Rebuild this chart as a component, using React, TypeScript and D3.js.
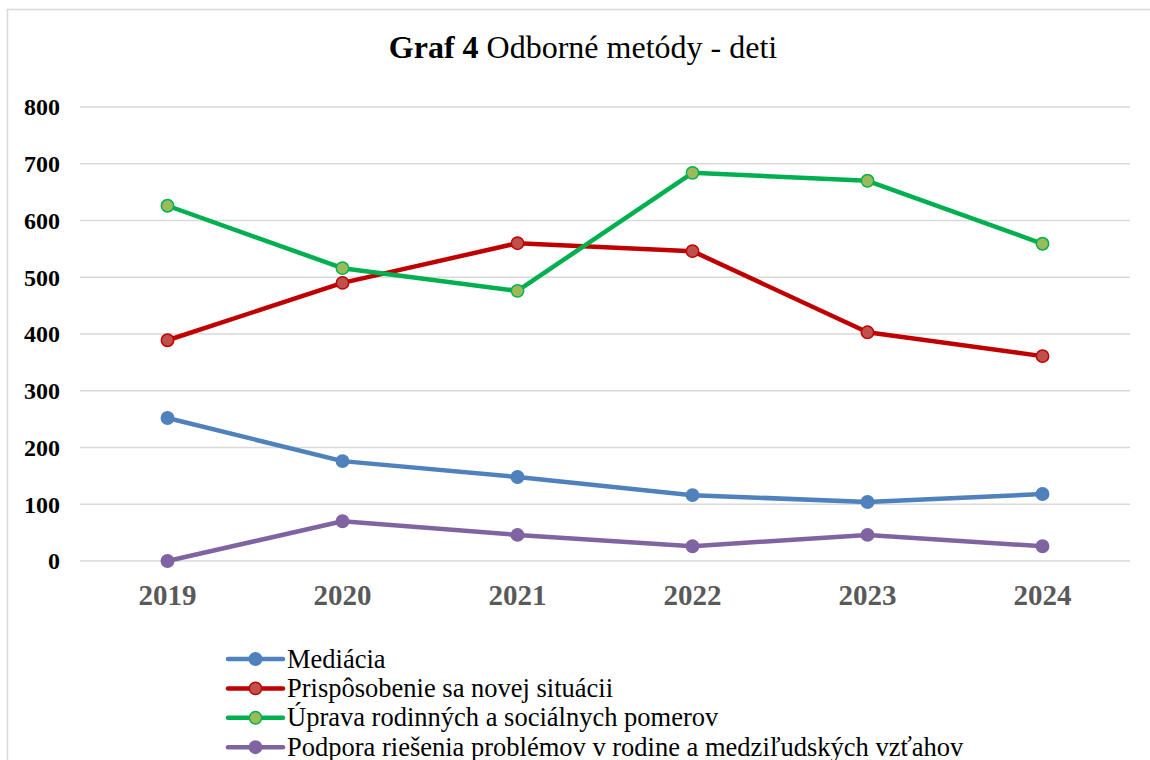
import React from "react";
import * as d3 from "d3";

const years = ["2019", "2020", "2021", "2022", "2023", "2024"];
const mediacia = [252, 176, 148, 116, 104, 118];
const prisposobenie = [389, 490, 560, 546, 403, 361];
const uprava = [626, 516, 476, 684, 670, 559];
const podpora = [0, 70, 46, 26, 46, 26];
const yTicks = [0, 100, 200, 300, 400, 500, 600, 700, 800];

const seriesNames = [
  "Mediácia",
  "Prispôsobenie sa novej situácii",
  "Úprava rodinných a sociálnych pomerov",
  "Podpora riešenia problémov v rodine a medziľudských vzťahov",
];
const seriesValues = [mediacia, prisposobenie, uprava, podpora];
const lineColors = ["#4f81bd", "#c00000", "#00b050", "#8064a2"];
const markerFills = ["#4f81bd", "#c0504d", "#9bbb59", "#8064a2"];

const W = 1150;
const H = 760;
const FONT = "Liberation Serif, Times New Roman, serif";

export default function App() {
  const x = d3.scaleBand<string>().domain(years).range([80, 1130]);
  const y = d3.scaleLinear().domain([0, 800]).range([561, 107]);
  const cx = (i: number) => (x(years[i]) as number) + x.bandwidth() / 2;
  const line = d3
    .line<number>()
    .x((_, i) => cx(i))
    .y((d) => y(d));

  return (
    <svg
      width={W}
      height={H}
      style={{ position: "absolute", left: 0, top: 0, background: "#fff", fontFamily: FONT }}
    >
      <rect x={7.5} y={9.5} width={1200} height={800} fill="#fff" stroke="#d9d9d9" strokeWidth={1.5} />
      <text x={583} y={58} textAnchor="middle" fontSize={32} fill="#000">
        <tspan fontWeight="bold">Graf 4</tspan>
        <tspan fontWeight="normal"> Odborné metódy - deti</tspan>
      </text>
      {yTicks.map((t) => (
        <g key={t}>
          <line x1={80} x2={1130} y1={y(t)} y2={y(t)} stroke="#d9d9d9" strokeWidth={1.5} />
          <text x={60} y={y(t)} dy="0.35em" textAnchor="end" fontSize={24} fontWeight="bold" fill="#000">
            {t}
          </text>
        </g>
      ))}
      {years.map((yr, i) => (
        <text key={yr} x={cx(i)} y={605} textAnchor="middle" fontSize={29} fontWeight="bold" fill="#595959">
          {yr}
        </text>
      ))}
      {seriesValues.map((vals, si) => (
        <g key={si}>
          <path d={line(vals) || ""} fill="none" stroke={lineColors[si]} strokeWidth={4.5} strokeLinejoin="round" />
          {vals.map((v, i) => (
            <circle key={i} cx={cx(i)} cy={y(v)} r={6.2} fill={markerFills[si]} stroke={lineColors[si]} strokeWidth={1.5} />
          ))}
        </g>
      ))}
      {seriesNames.map((name, si) => {
        const ly = 659 + si * 29.4;
        return (
          <g key={name}>
            <line x1={228} x2={283} y1={ly} y2={ly} stroke={lineColors[si]} strokeWidth={4.5} strokeLinecap="round" />
            <circle cx={255.5} cy={ly} r={6.2} fill={markerFills[si]} stroke={lineColors[si]} strokeWidth={1.5} />
            <text x={287} y={ly + 8.5} fontSize={26.5} fontWeight="normal" fill="#000">
              {name}
            </text>
          </g>
        );
      })}
    </svg>
  );
}
